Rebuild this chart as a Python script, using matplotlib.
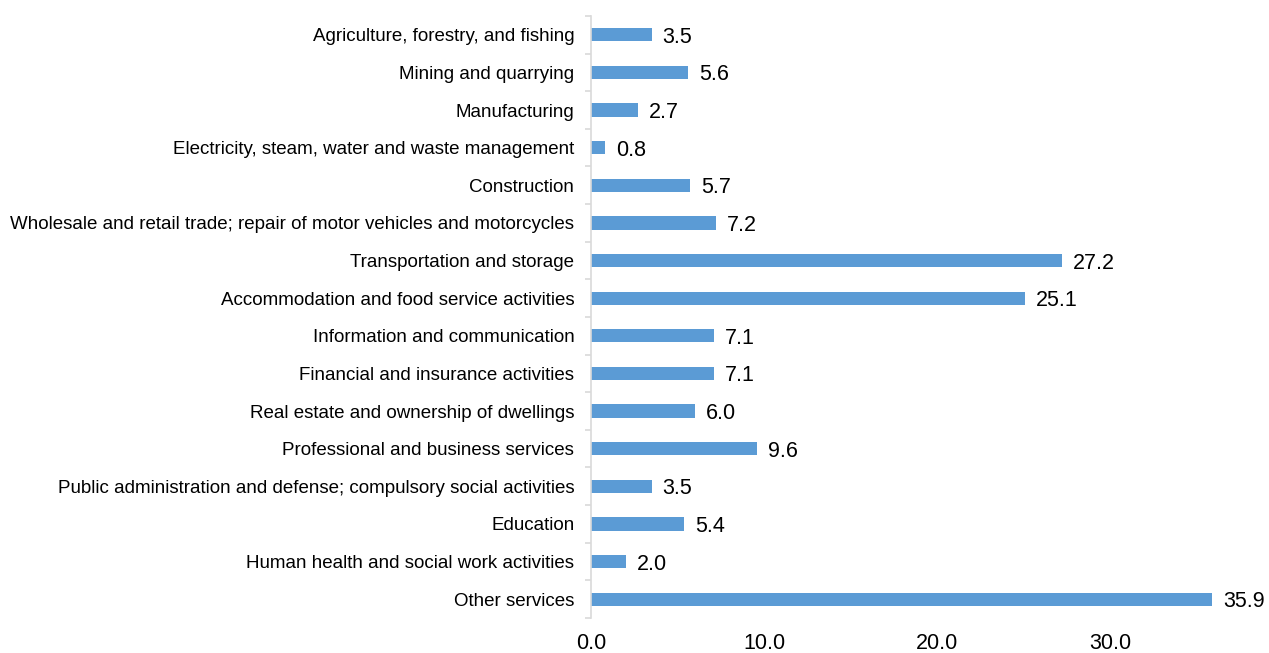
import matplotlib.pyplot as plt

plt.rcParams['font.family'] = ['Liberation Sans', 'DejaVu Sans']

sectors = [
    "Agriculture, forestry, and fishing",
    "Mining and quarrying",
    "Manufacturing",
    "Electricity, steam, water and waste management",
    "Construction",
    "Wholesale and retail trade; repair of motor vehicles and motorcycles",
    "Transportation and storage",
    "Accommodation and food service activities",
    "Information and communication",
    "Financial and insurance activities",
    "Real estate and ownership of dwellings",
    "Professional and business services",
    "Public administration and defense; compulsory social activities",
    "Education",
    "Human health and social work activities",
    "Other services",
]
values = [3.5, 5.6, 2.7, 0.8, 5.7, 7.2, 27.2, 25.1, 7.1, 7.1, 6.0, 9.6, 3.5, 5.4, 2.0, 35.9]
xticks = [0, 10, 20, 30]

fig = plt.figure(figsize=(12.69, 6.53), dpi=100)
ax = fig.add_axes([591 / 1269, 35 / 653, (40 * 17.3) / 1269, 602 / 653])

pos = list(range(len(sectors)))
ax.barh(pos, values, height=0.35, color="#5B9BD5")
ax.set_ylim(len(sectors) - 0.5, -0.5)
ax.set_xlim(0, 40)

for y, v in zip(pos, values):
    ax.annotate(f"{v:.1f}", (v, y), xytext=(8, 0), textcoords="offset points",
                va="center_baseline", ha="left", fontsize=15.5, color="black")

ax.set_yticks(pos)
ax.set_yticklabels(sectors, fontsize=13.5)
ax.set_yticks([p + 0.5 for p in [-1] + pos], minor=True)
ax.tick_params(axis="y", which="major", length=0, pad=12)
ax.tick_params(axis="y", which="minor", length=4, color="#D9D9D9", width=1.2)

ax.set_xticks(xticks)
ax.set_xticklabels([f"{t:.1f}" for t in xticks], fontsize=15.5)
ax.tick_params(axis="x", length=0, pad=11)

for s in ["top", "right", "bottom"]:
    ax.spines[s].set_visible(False)
ax.spines["left"].set_color("#D9D9D9")
ax.spines["left"].set_linewidth(1.2)

fig.savefig("out.png", dpi=100)
